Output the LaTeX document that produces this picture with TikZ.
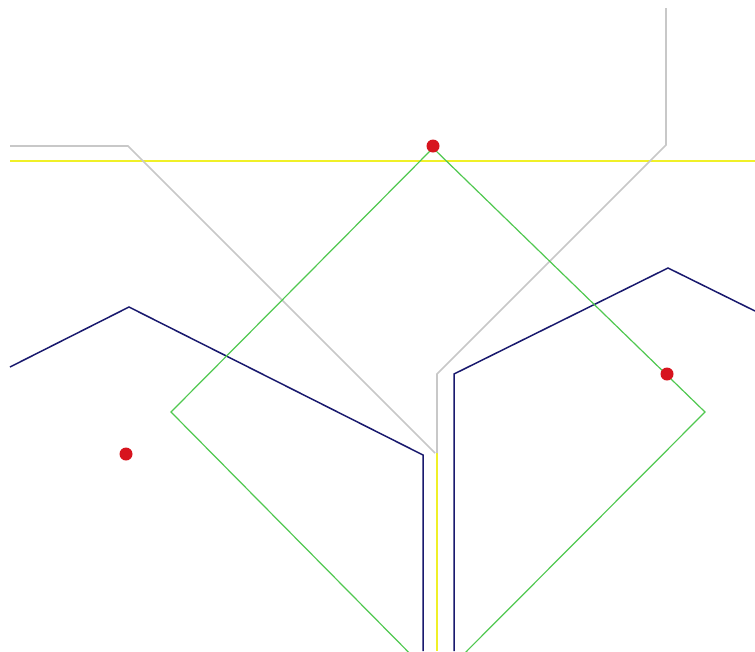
\documentclass[tikz,border=0pt]{standalone}
\begin{document}
\begin{tikzpicture}[x=1pt,y=-1pt,
  grayline/.style={draw={rgb,255:red,200;green,200;blue,200},line width=1.6pt},
  yellowline/.style={draw={rgb,255:red,240;green,240;blue,40},line width=1.5pt},
  blueline/.style={draw={rgb,255:red,25;green,25;blue,110},line width=1.5pt},
  greenline/.style={draw={rgb,255:red,80;green,200;blue,80},line width=1.2pt},
  reddot/.style={circle,fill={rgb,255:red,215;green,20;blue,30},inner sep=0pt,minimum size=13pt}]
\useasboundingbox[fill=white] (0,0) rectangle (755,651);
% yellow
\coordinate (y1) at (10,161);
\coordinate (y2) at (755,161);
\coordinate (y3) at (437,453);
\coordinate (y4) at (437,651);
\draw[yellowline] (y1) -- (y2);
\draw[yellowline] (y3) -- (y4);
% gray
\coordinate (g1) at (10,146);
\coordinate (g2) at (128,146);
\coordinate (g3) at (435,453);
\coordinate (g4) at (666,8);
\coordinate (g5) at (666,145);
\coordinate (g6) at (437,374);
\coordinate (g7) at (437,453);
\draw[grayline] (g1) -- (g2) -- (g3);
\draw[grayline] (g4) -- (g5) -- (g6) -- (g7);
% blue
\coordinate (b1) at (10,367);
\coordinate (b2) at (129,307);
\coordinate (b3) at (423,455);
\coordinate (b4) at (423,651);
\coordinate (b5) at (755,311);
\coordinate (b6) at (668,268);
\coordinate (b7) at (454,374);
\coordinate (b8) at (454,651);
\draw[blueline] (b1) -- (b2) -- (b3) -- (b4);
\draw[blueline] (b5) -- (b6) -- (b7) -- (b8);
% green
\coordinate (q1) at (433,148);
\coordinate (q2) at (171,412);
\coordinate (q3) at (705,412);
\coordinate (q4) at (437,681);
\draw[greenline] (q4) -- (q2) -- (q1) -- (q3) -- cycle;
% red dots
\node[reddot] (r1) at (433,146) {};
\node[reddot] (r2) at (667,374) {};
\node[reddot] (r3) at (126,454) {};
\end{tikzpicture}
\end{document}
